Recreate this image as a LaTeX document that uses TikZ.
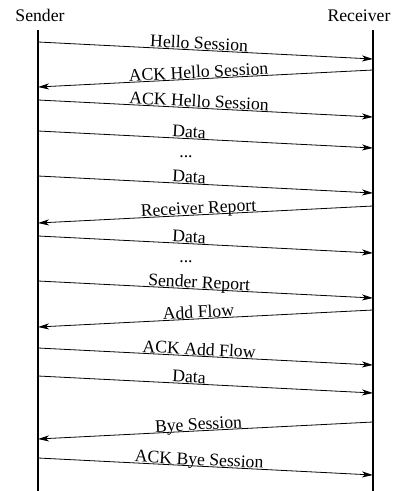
\documentclass[tikz,border=0pt]{standalone}
\usepackage{fontspec}
\setmainfont{Liberation Serif}
\usetikzlibrary{arrows.meta}
\tikzstyle{lifeline}=[line width=1.2pt]
\tikzstyle{msg}=[line width=0.8pt,-{Stealth[length=11pt,width=6pt,inset=3pt]}]
\tikzstyle{lbl}=[sloped,anchor=base,inner sep=0pt,yshift=1pt]

\begin{document}
\begin{tikzpicture}[x=1pt,y=-1pt,font=\fontsize{17.7}{20}\selectfont]
          \useasboundingbox (0,0) rectangle (394,491);
          \node[anchor=base] (snd) at (40,21) {Sender};
          \node[anchor=base] (rcv) at (359,21) {Receiver};
          \coordinate (snd-top) at (38,30);
          \coordinate (snd-end) at (38,491);
          \coordinate (rcv-top) at (373,30);
          \coordinate (rcv-end) at (373,491);
          \draw[lifeline] (snd-top) -- (snd-end);
          \draw[lifeline] (rcv-top) -- (rcv-end);
          \foreach \xa/\xb/\ya/\text/\p [count=\i] in {
                      38/373/42/Hello Session/.48, 373/38/70/ACK Hello Session/.52,
                      38/373/100/ACK Hello Session/.48, 38/373/131/Data/.45,
                      38/373/176/Data/.45, 373/38/206/Receiver Report/.52,
                      38/373/236/Data/.45, 38/373/281/Sender Report/.48,
                      373/38/310/Add Flow/.52, 38/373/348/ACK Add Flow/.48,
                      38/373/376/Data/.45, 373/38/422/Bye Session/.52,
                      38/373/458/ACK Bye Session/.48}
            {
            \coordinate (m\i-from) at (\xa,\ya);
            \coordinate (m\i-to) at (\xb,\ya+17);
            \draw[msg] (m\i-from) -- node[lbl,pos=\p] {\text} (m\i-to);
            }
          \node[anchor=base] (dots1) at (186,157) {...};
          \node[anchor=base] (dots2) at (186,262) {...};
        \end{tikzpicture}
\end{document}
